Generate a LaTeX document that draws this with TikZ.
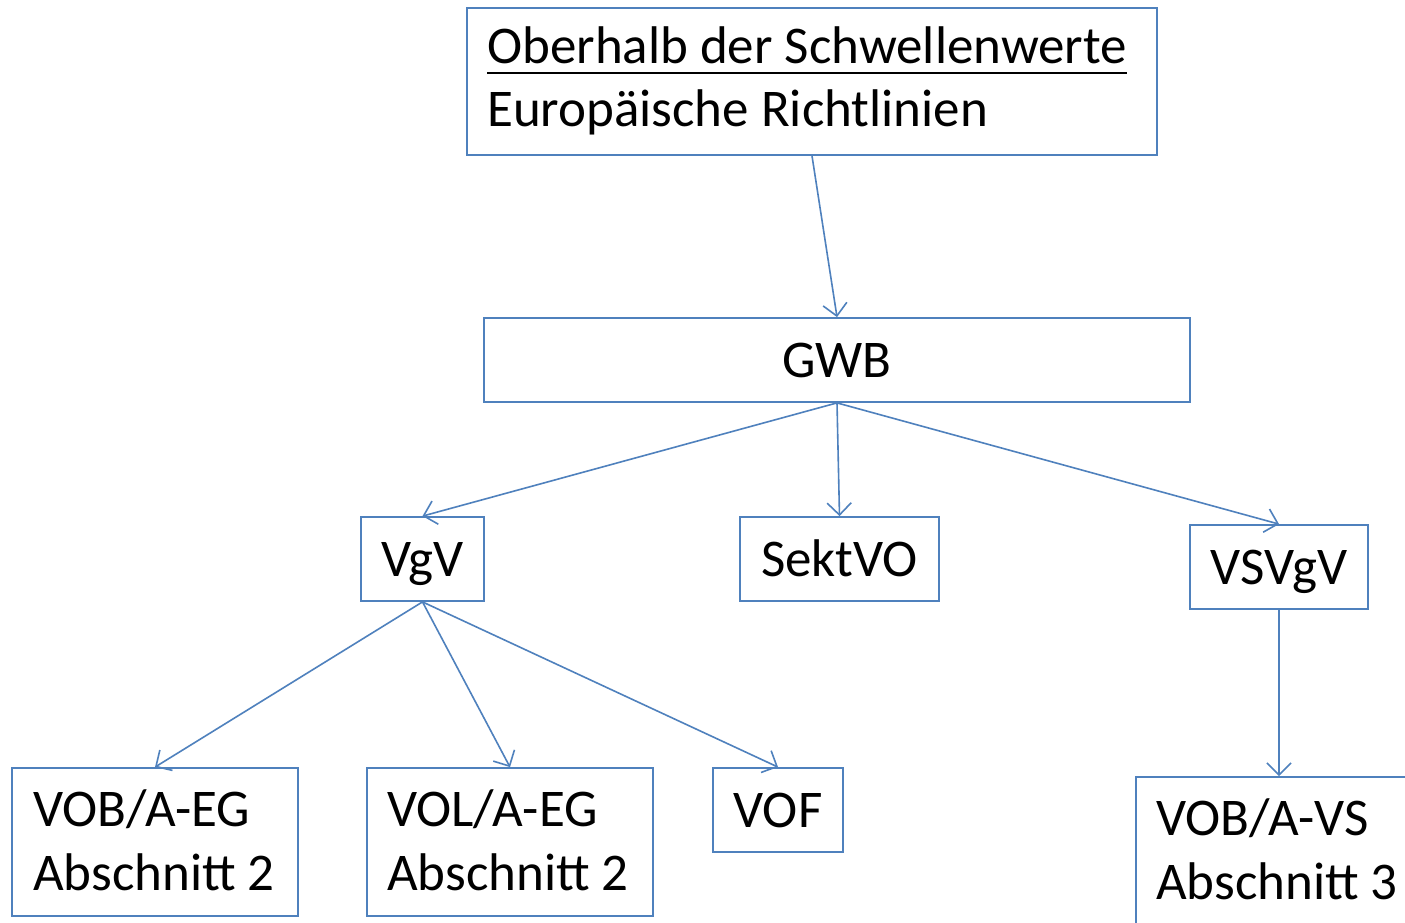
\documentclass[tikz,border=0pt]{standalone}
\usepackage{fontspec}
\setmainfont{Carlito}
\usetikzlibrary{arrows.meta}
\definecolor{boxblue}{HTML}{4F81BD}
\tikzset{
  box/.style={draw=boxblue, line width=1.8pt, inner sep=0pt, font=\bigfont},
  onel/.style={box, text height=34pt, text depth=0pt},
  txt/.style={inner sep=0pt, anchor=base west, font=\bigfont},
  conn/.style={draw=boxblue, line width=1.6pt, -{Straight Barb[length=12pt,width=24pt,line width=1.6pt]}},
}
\newcommand{\bigfont}{\fontsize{53pt}{64pt}\selectfont}
\begin{document}
\begin{tikzpicture}[x=1pt,y=-1pt]
\path[use as bounding box, clip] (0,0) rectangle (1405,923);
\fill[white] (0,0) rectangle (1405,923);
% boxes
\node[box, minimum width=690pt, minimum height=147pt] (top) at (812,81.5) {};
\node[txt] (t1) at (487,64) {Oberhalb der Schwellenwerte};
\node[txt] (t2) at (487,127) {Europäische Richtlinien};
\draw[line width=2.6pt] ([yshift=-9pt]t1.base west) -- ([yshift=-9pt]t1.base east);
\node[onel, minimum width=706pt, minimum height=84pt] (gwb) at (837,360) {GWB};
\node[onel, minimum width=123pt, minimum height=84pt] (vgv) at (422.5,559) {VgV};
\node[onel, minimum width=199pt, minimum height=84pt] (sekt) at (839.5,559) {SektVO};
\node[onel, minimum width=178pt, minimum height=84pt] (vsvgv) at (1279,567) {VSVgV};
\node[onel, minimum width=130pt, minimum height=84pt] (vof) at (778,810) {VOF};
\node[box, minimum width=286pt, minimum height=148pt] (vobeg) at (155,842) {};
\node[txt] (vobeg1) at (33,826) {VOB/A-EG};
\node[txt] (vobeg2) at (33,890) {Abschnitt 2};
\node[box, minimum width=286pt, minimum height=148pt] (voleg) at (510,842) {};
\node[txt] (voleg1) at (387,826) {VOL/A-EG};
\node[txt] (voleg2) at (387,890) {Abschnitt 2};
\node[box, minimum width=286pt, minimum height=148pt] (vobvs) at (1279,851) {};
\node[txt] (vobvs1) at (1156,835) {VOB/A-VS};
\node[txt] (vobvs2) at (1156,899) {Abschnitt 3};
% connectors
\draw[conn] (top.south) -- (gwb.north);
\draw[conn] (gwb.south) -- (vgv.north);
\draw[conn] (gwb.south) -- (sekt.north);
\draw[conn] (gwb.south) -- (vsvgv.north);
\draw[conn] (vgv.south) -- (vobeg.north);
\draw[conn] (vgv.south) -- (voleg.north);
\draw[conn] (vgv.south) -- (vof.north);
\draw[conn] (vsvgv.south) -- (vobvs.north);
\end{tikzpicture}
\end{document}
